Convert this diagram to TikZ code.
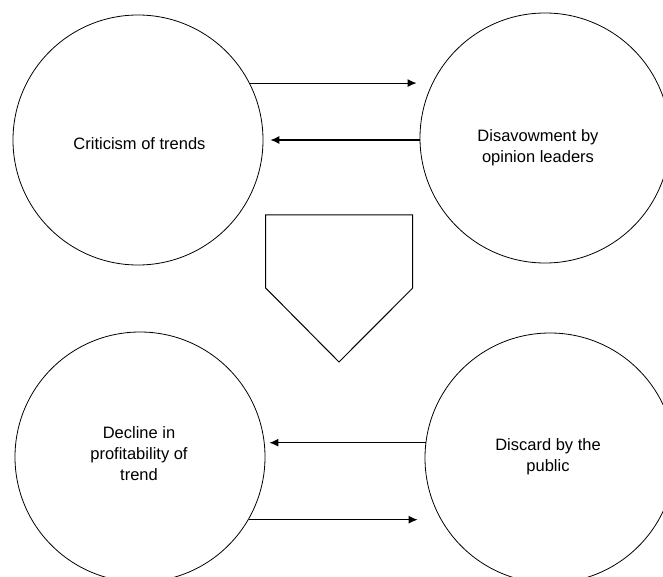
\documentclass[tikz,border=0pt]{standalone}
\usepackage{fontspec}
\setmainfont{Liberation Sans}
\usetikzlibrary{arrows.meta}
\begin{document}
\begin{tikzpicture}[x=1pt,y=-1pt,
  circ/.style={draw,circle,minimum size=250pt,inner sep=0pt,line width=0.8pt},
  txt/.style={align=center,font=\fontsize{16.5pt}{21pt}\selectfont,inner sep=0pt},
  arr/.style={line width=1.1pt,-{Latex[length=9pt,width=8pt]}}]
\useasboundingbox (0,0) rectangle (663,577);
\node[circ] (A) at (138,140) {};
\node[circ] (B) at (545,138) {};
\node[circ] (C) at (140,457) {};
\node[circ] (D) at (550,458) {};
\node[txt] (tA) at (139.5,144) {Criticism of trends};
\node[txt] (tB) at (538,147.5) {Disavowment by\\opinion leaders};
\node[txt] (tC) at (139,454) {Decline in\\profitability of\\trend};
\node[txt] (tD) at (548,457) {Discard by the\\public};
% arrows
\draw[arr,shorten >=3pt] (A.27.6) -- (A.27.6 -| B.west);
\draw[arr,shorten >=7pt] (B.west |- A.east) -- (A.east);
\draw[arr,shorten >=4pt] (D.173.7) -- (D.173.7 -| C.east);
\draw[arr,shorten >=7pt] (C.-30.3) -- (C.-30.3 -| D.west);
% pentagon
\draw[line width=1pt] (265.7,215) -- (412.7,215) -- (412.7,288) -- (339,362) -- (265.7,288) -- cycle;
\end{tikzpicture}
\end{document}
